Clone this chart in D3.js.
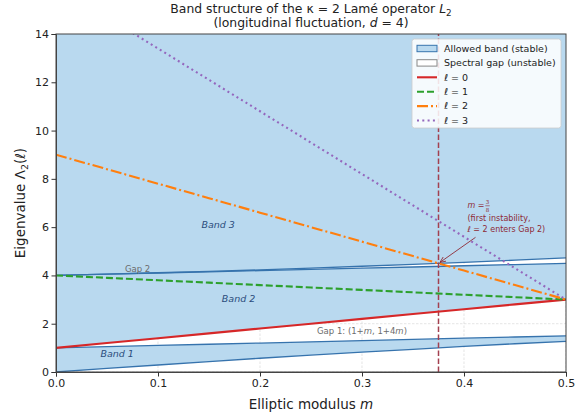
<!DOCTYPE html>
<html>
<head>
<meta charset="utf-8">
<script src="https://cdn.jsdelivr.net/npm/d3@7"></script>
<style>
  html, body { margin: 0; padding: 0; background: #fff; }
  svg { display: block; font-family: "DejaVu Sans", sans-serif; }
</style>
</head>
<body>
<svg id="chart" width="587" height="416"></svg>
<script>
// Elliptic modulus sample points
const mVals = [0, 0.05, 0.10, 0.15, 0.20, 0.25, 0.30, 0.35, 0.40, 0.45, 0.50];

// Band edges of the spectrum
const band1Low  = [0.00, 0.15, 0.29, 0.43, 0.57, 0.70, 0.82, 0.94, 1.06, 1.17, 1.27];
const band1High = [1.00, 1.05, 1.10, 1.15, 1.20, 1.25, 1.30, 1.35, 1.40, 1.45, 1.50];
const band2Low  = [1.00, 1.20, 1.40, 1.60, 1.80, 2.00, 2.20, 2.40, 2.60, 2.80, 3.00];
const band2High = [4.00, 4.05, 4.10, 4.15, 4.20, 4.25, 4.30, 4.35, 4.40, 4.45, 4.50];
const band3Low  = [4.00, 4.05, 4.11, 4.17, 4.23, 4.30, 4.38, 4.46, 4.54, 4.63, 4.73];
const yTop = 14;

// Eigenvalue branches Λ2(ℓ)
const lam0 = [1.0, 1.2, 1.4, 1.6, 1.8, 2.0, 2.2, 2.4, 2.6, 2.8, 3.0];
const lam1 = [4.0, 3.9, 3.8, 3.7, 3.6, 3.5, 3.4, 3.3, 3.2, 3.1, 3.0];
const lam2 = [9.0, 8.4, 7.8, 7.2, 6.6, 6.0, 5.4, 4.8, 4.2, 3.6, 3.0];
const lam3 = [16.0, 14.7, 13.4, 12.1, 10.8, 9.5, 8.2, 6.9, 5.6, 4.3, 3.0];

const xTicks = [0, 0.1, 0.2, 0.3, 0.4, 0.5];
const yTicks = [0, 2, 4, 6, 8, 10, 12, 14];

// First instability point
const mCrit = 0.375;
const lamCrit = 4.5;

const svg = d3.select("#chart");
const margin = { left: 56, right: 21, top: 34, bottom: 44 };
const W = 587, H = 416;
const x = d3.scaleLinear().domain([0, 0.5]).range([margin.left, W - margin.right]);
const y = d3.scaleLinear().domain([0, 14]).range([H - margin.bottom, margin.top]);

svg.append("defs").append("clipPath").attr("id", "plotClip")
  .append("rect").attr("x", x(0)).attr("y", y(14))
  .attr("width", x(0.5) - x(0)).attr("height", y(0) - y(14));

const plot = svg.append("g").attr("clip-path", "url(#plotClip)");

// grid
plot.append("g").selectAll("line.gx").data(xTicks).join("line")
  .attr("x1", d => x(d)).attr("x2", d => x(d)).attr("y1", y(0)).attr("y2", y(14))
  .attr("stroke", "#d8d8d8").attr("stroke-width", 0.7).attr("stroke-dasharray", "2.5,1.5");
plot.append("g").selectAll("line.gy").data(yTicks).join("line")
  .attr("x1", x(0)).attr("x2", x(0.5)).attr("y1", d => y(d)).attr("y2", d => y(d))
  .attr("stroke", "#d8d8d8").attr("stroke-width", 0.7).attr("stroke-dasharray", "2.5,1.5");

const bandFill = "#b9d9ef";
const edgeColor = "#3673ad";

const area = (lo, hi) => d3.area()
  .x((d, i) => x(mVals[i]))
  .y0((d, i) => y(lo[i]))
  .y1((d, i) => y(hi[i]))(mVals);

const topArr = mVals.map(() => yTop);
[[band1Low, band1High], [band2Low, band2High], [band3Low, topArr]].forEach(([lo, hi]) => {
  plot.append("path").attr("d", area(lo, hi)).attr("fill", bandFill);
});

const line = arr => d3.line().x((d, i) => x(mVals[i])).y((d, i) => y(arr[i]))(mVals);

[band1Low, band1High, band2High, band3Low].forEach(arr => {
  plot.append("path").attr("d", line(arr)).attr("fill", "none")
    .attr("stroke", edgeColor).attr("stroke-width", 1.3);
});

// vertical marker at first instability
plot.append("line")
  .attr("x1", x(mCrit)).attr("x2", x(mCrit)).attr("y1", y(0)).attr("y2", y(14))
  .attr("stroke", "#a3404f").attr("stroke-width", 1.5).attr("stroke-dasharray", "5.5,2.5");

// eigenvalue branches
const branches = [
  { data: lam0, color: "#d62728", dash: null, label: "0" },
  { data: lam1, color: "#2ca02c", dash: "7,3", label: "1" },
  { data: lam2, color: "#ff7f0e", dash: "11,3,2,3", label: "2" },
  { data: lam3, color: "#9467bd", dash: "2,3.3", label: "3" }
];
branches.forEach(b => {
  plot.append("path").attr("d", line(b.data)).attr("fill", "none")
    .attr("stroke", b.color).attr("stroke-width", 2.1)
    .attr("stroke-dasharray", b.dash);
});

// text labels for bands and gaps
const bandLabel = (mx, vy, t) => svg.append("text").attr("x", x(mx)).attr("y", y(vy))
  .attr("text-anchor", "middle").attr("font-size", 9.5).attr("font-style", "italic")
  .attr("fill", "#2b4d7d").text(t);
bandLabel(0.06, 0.62, "Band 1");
bandLabel(0.179, 2.92, "Band 2");
bandLabel(0.159, 5.98, "Band 3");

svg.append("text").attr("x", x(0.08)).attr("y", y(4.15)).attr("text-anchor", "middle")
  .attr("font-size", 8.5).attr("fill", "#6b6b6b").text("Gap 2");
const g1 = svg.append("text").attr("x", x(0.3)).attr("y", y(1.57)).attr("text-anchor", "middle")
  .attr("font-size", 8.5).attr("fill", "#6b6b6b");
g1.append("tspan").text("Gap 1: (1+");
g1.append("tspan").attr("font-style", "italic").text("m");
g1.append("tspan").text(", 1+4");
g1.append("tspan").attr("font-style", "italic").text("m");
g1.append("tspan").text(")");

// axes frame
const spine = "#444";
svg.append("rect").attr("x", x(0)).attr("y", y(14))
  .attr("width", x(0.5) - x(0)).attr("height", y(0) - y(14))
  .attr("fill", "none").attr("stroke", spine).attr("stroke-width", 1);

const xAxis = svg.append("g").attr("transform", `translate(0,${y(0)})`)
  .call(d3.axisBottom(x).tickValues(xTicks).tickFormat(d3.format(".1f")).tickSize(4.5).tickPadding(2.5));
const yAxis = svg.append("g").attr("transform", `translate(${x(0)},0)`)
  .call(d3.axisLeft(y).tickValues(yTicks).tickFormat(d3.format("d")).tickSize(4.5).tickPadding(2.5));
[xAxis, yAxis].forEach(a => {
  a.select(".domain").attr("stroke", spine);
  a.selectAll(".tick line").attr("stroke", "#333");
  a.selectAll(".tick text").attr("font-size", 11).attr("fill", "#222")
    .attr("font-family", "DejaVu Sans, sans-serif");
});

// axis titles
const xl = svg.append("text").attr("x", (x(0) + x(0.5)) / 2).attr("y", 409)
  .attr("text-anchor", "middle").attr("font-size", 13.5).attr("fill", "#222");
xl.append("tspan").text("Elliptic modulus ");
xl.append("tspan").attr("font-style", "italic").text("m");

const yl = svg.append("text").attr("transform", `translate(24.5,${(y(0) + y(14)) / 2}) rotate(-90)`)
  .attr("text-anchor", "middle").attr("font-size", 13.5).attr("fill", "#222");
yl.append("tspan").text("Eigenvalue Λ");
yl.append("tspan").attr("font-size", 9.5).attr("dy", 3).text("2");
yl.append("tspan").attr("dy", -3).text("(");
yl.append("tspan").attr("font-style", "italic").text("ℓ");
yl.append("tspan").text(")");

// title
const t1 = svg.append("text").attr("x", (x(0) + x(0.5)) / 2).attr("y", 13)
  .attr("text-anchor", "middle").attr("font-size", 12.4).attr("fill", "#222");
t1.append("tspan").text("Band structure of the κ = 2 Lamé operator ");
t1.append("tspan").attr("font-style", "italic").text("L");
t1.append("tspan").attr("font-size", 8.8).attr("dy", 2.5).text("2");
const t2 = svg.append("text").attr("x", (x(0) + x(0.5)) / 2).attr("y", 27)
  .attr("text-anchor", "middle").attr("font-size", 12.4).attr("fill", "#222");
t2.append("tspan").text("(longitudinal fluctuation, ");
t2.append("tspan").attr("font-style", "italic").text("d");
t2.append("tspan").text(" = 4)");

// annotation
const annColor = "#8e2a35";
const ax0 = x(mCrit) + 37, ay0 = y(lamCrit) - 26;
svg.append("defs").append("marker").attr("id", "ah").attr("viewBox", "0 0 10 10")
  .attr("refX", 9).attr("refY", 5).attr("markerWidth", 7).attr("markerHeight", 7)
  .attr("orient", "auto")
  .append("path").attr("d", "M0,1 L9,5 L0,9").attr("fill", "none")
  .attr("stroke", annColor).attr("stroke-width", 1.3);
svg.append("line").attr("x1", ax0).attr("y1", ay0)
  .attr("x2", x(mCrit) + 1.5).attr("y2", y(lamCrit) - 1)
  .attr("stroke", annColor).attr("stroke-width", 0.9).attr("marker-end", "url(#ah)");

const tx = x(mCrit) + 29;
const a1 = svg.append("text").attr("x", tx).attr("y", y(lamCrit) - 55)
  .attr("font-size", 8).attr("fill", annColor);
a1.append("tspan").attr("font-style", "italic").text("m");
a1.append("tspan").text(" = ");
const fx = tx + 20;
svg.append("text").attr("x", fx).attr("y", y(lamCrit) - 59).attr("text-anchor", "middle")
  .attr("font-size", 5.5).attr("fill", annColor).text("3");
svg.append("line").attr("x1", fx - 2.2).attr("x2", fx + 2.2)
  .attr("y1", y(lamCrit) - 57.6).attr("y2", y(lamCrit) - 57.6)
  .attr("stroke", annColor).attr("stroke-width", 0.6);
svg.append("text").attr("x", fx).attr("y", y(lamCrit) - 51.8).attr("text-anchor", "middle")
  .attr("font-size", 5.5).attr("fill", annColor).text("8");
svg.append("text").attr("x", tx).attr("y", y(lamCrit) - 42)
  .attr("font-size", 8).attr("fill", annColor).text("(first instability,");
const a3 = svg.append("text").attr("x", tx).attr("y", y(lamCrit) - 31)
  .attr("font-size", 8).attr("fill", annColor);
a3.append("tspan").attr("font-style", "italic").text("ℓ");
a3.append("tspan").text(" = 2 enters Gap 2)");

// legend
const lg = svg.append("g").attr("transform", "translate(412,39)");
lg.append("rect").attr("width", 149).attr("height", 89).attr("rx", 2.5)
  .attr("fill", "#fff").attr("fill-opacity", 0.85).attr("stroke", "#cccccc").attr("stroke-width", 0.8);
const rowY = i => 9.5 + i * 14.4;
lg.append("rect").attr("x", 5).attr("y", rowY(0) - 3.2).attr("width", 20).attr("height", 6.4)
  .attr("fill", bandFill).attr("stroke", edgeColor).attr("stroke-width", 1);
lg.append("rect").attr("x", 5).attr("y", rowY(1) - 3.2).attr("width", 20).attr("height", 6.4)
  .attr("fill", "#fff").attr("stroke", "#888").attr("stroke-width", 1);
lg.append("text").attr("x", 32).attr("y", rowY(0) + 3.3).attr("font-size", 9.5).attr("fill", "#222")
  .text("Allowed band (stable)");
lg.append("text").attr("x", 32).attr("y", rowY(1) + 3.3).attr("font-size", 9.5).attr("fill", "#222")
  .text("Spectral gap (unstable)");
branches.forEach((b, i) => {
  const ry = rowY(i + 2);
  lg.append("line").attr("x1", 5).attr("x2", 25).attr("y1", ry).attr("y2", ry)
    .attr("stroke", b.color).attr("stroke-width", 2.1).attr("stroke-dasharray", b.dash);
  const t = lg.append("text").attr("x", 32).attr("y", ry + 3.3).attr("font-size", 9.5).attr("fill", "#222");
  t.append("tspan").attr("font-style", "italic").text("ℓ");
  t.append("tspan").text(" = " + b.label);
});
</script>
</body>
</html>
